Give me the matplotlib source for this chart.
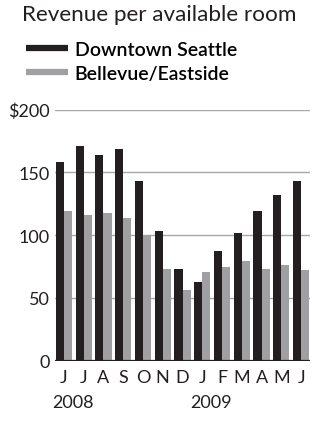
import matplotlib
matplotlib.use("Agg")
import matplotlib.pyplot as plt
import matplotlib.transforms as mtransforms
from matplotlib.lines import Line2D
import numpy as np

plt.rcParams["font.family"] = ["Lato", "DejaVu Sans"]

months = ["J", "J", "A", "S", "O", "N", "D", "J", "F", "M", "A", "M", "J"]
years = ["2008", "2009"]
year_start = [0, 7]
downtown = [158, 171, 164, 169, 143, 103, 73, 63, 87, 102, 119, 132, 143]
bellevue = [119, 116, 118, 114, 100, 73, 56, 71, 75, 79, 73, 76, 72]
yticks = [0, 50, 100, 150, 200]
ytick_labels = ["0", "50", "100", "150", "$200"]

BLACK = "#231f20"
GRAY = "#a0a0a2"
TEXT = "#231f20"

fig = plt.figure(figsize=(3.13, 4.27), dpi=100)
ax = fig.add_axes([55 / 313, 0.153, 255 / 313, 0.588])

x = np.arange(len(months))
w = 0.41
ax.bar(x - w / 2, downtown, width=w, color=BLACK, zorder=3)
ax.bar(x + w / 2, bellevue, width=w, color=GRAY, zorder=3)

ax.set_xlim(-0.45, len(months) - 1 + 0.45)
ax.set_ylim(0, 200)

ax.set_yticks(yticks)
ax.set_yticklabels(ytick_labels)
ax.yaxis.grid(True, color="#a8a8a8", linewidth=1.0, zorder=0)
ax.axhline(0, color=BLACK, linewidth=1.6, zorder=4)

for s in ax.spines.values():
    s.set_visible(False)

ax.set_xticks(x)
ax.set_xticklabels(months)
ax.tick_params(axis="both", length=0, labelsize=13, colors=TEXT)
ax.tick_params(axis="x", pad=6)
ax.tick_params(axis="y", pad=4)

trans = mtransforms.blended_transform_factory(ax.transData, fig.transFigure)
for yr, i in zip(years, year_start):
    ax.text(i - 0.6, 1 - 403 / 427, yr, transform=trans, fontsize=13,
            color=TEXT, ha="left", va="center")

fig.text(22 / 313, 1 - 15 / 427, "Revenue per available room", fontsize=16.2,
         color=TEXT, ha="left", va="center")

handles = [
    Line2D([0], [0], color=BLACK, linewidth=4.5, solid_capstyle="butt"),
    Line2D([0], [0], color=GRAY, linewidth=4.5, solid_capstyle="butt"),
]
fig.legend(handles, ["Downtown Seattle", "Bellevue/Eastside"],
           loc="upper left", bbox_to_anchor=(26 / 313, 1 - 42 / 427),
           frameon=False, handlelength=2.15,
           handletextpad=0.35, labelspacing=0.35, borderpad=0,
           borderaxespad=0, prop={"weight": 600, "size": 14})

fig.savefig("out.png", dpi=100)
